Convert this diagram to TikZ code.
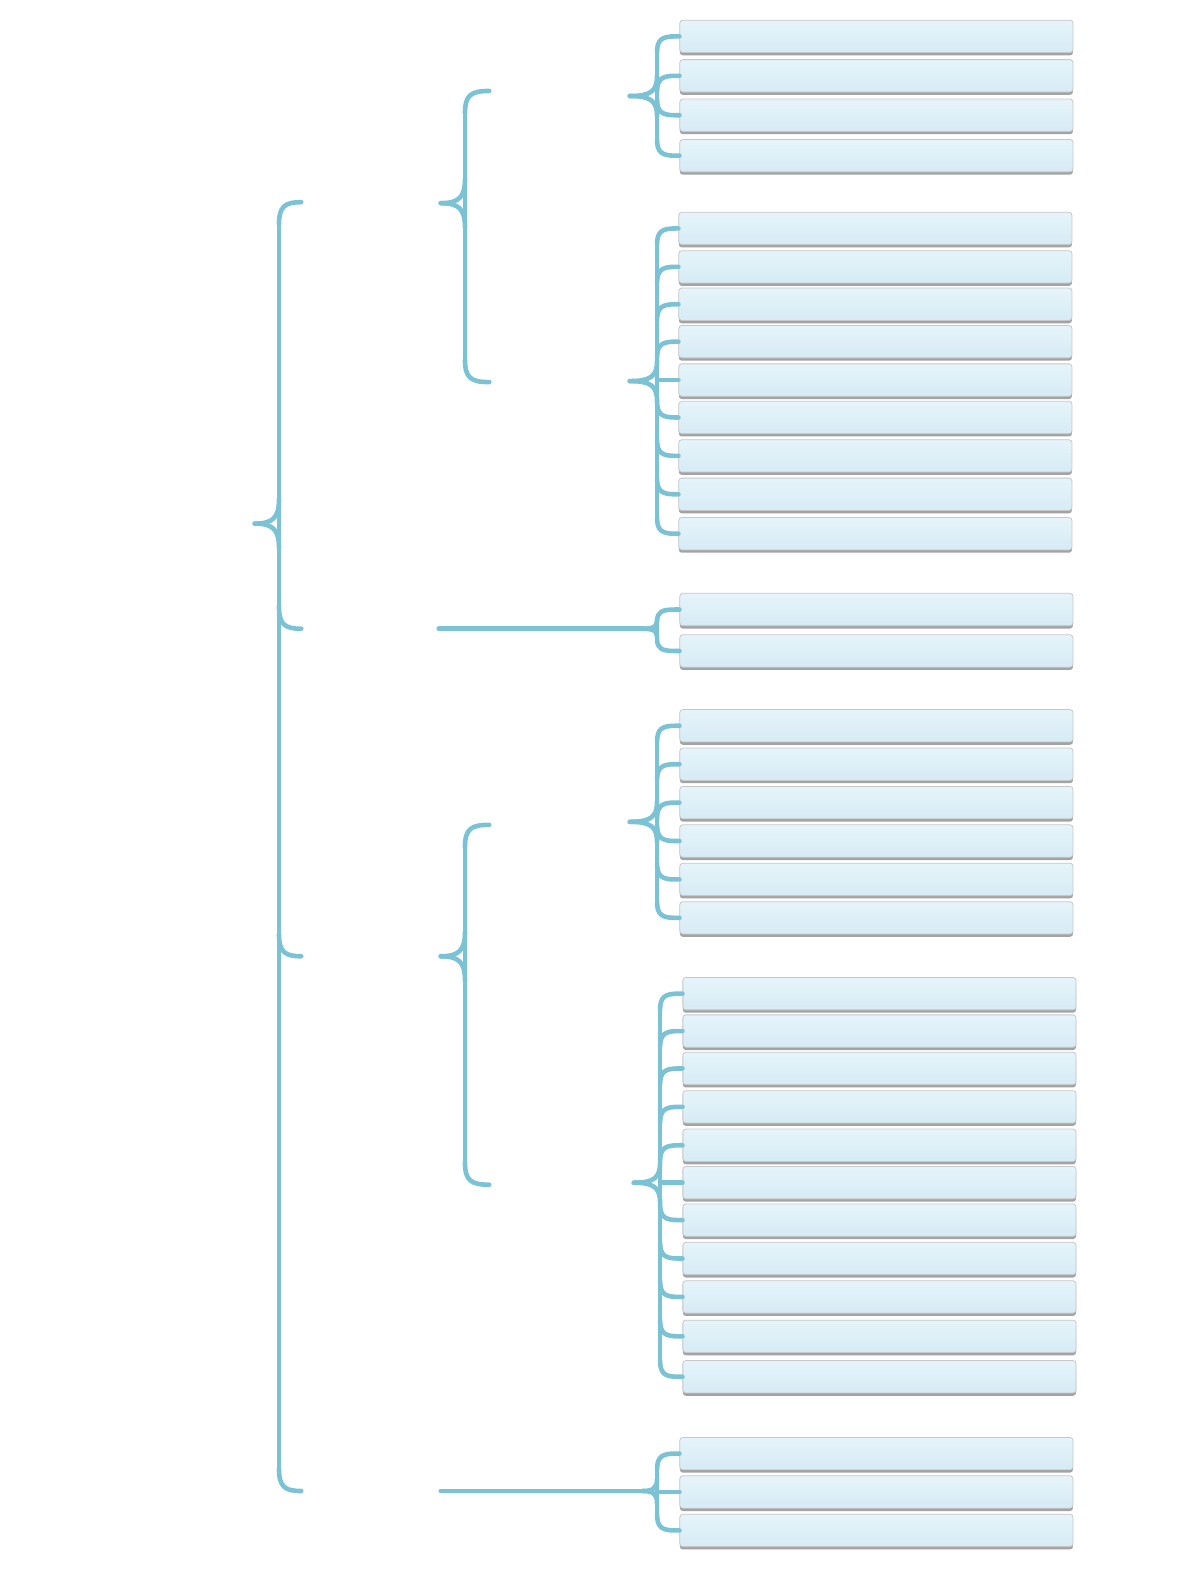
\documentclass[tikz,border=0pt]{standalone}
\usepackage{xcolor}
\usepackage{tikz}
\usetikzlibrary{calc,shadows}

\definecolor{bracecol}{HTML}{7BC2D4}
\definecolor{bartop}{HTML}{E6F4FA}
\definecolor{barbot}{HTML}{D6EBF5}

\begin{document}
\begin{tikzpicture}[x=0.5055pt,y=0.5055pt]
            \tikzstyle{every node}+=[inner sep=0pt]
            \tikzstyle{bar}=[rounded corners=1.5pt, minimum width=196.6pt, minimum height=16.2pt,
                top color=bartop, bottom color=barbot, draw=black!22, line width=0.4pt,
                drop shadow={shadow xshift=0pt, shadow yshift=-1.4pt, fill=black!45, opacity=0.8}]
            \tikzstyle{brace}=[bracecol, line width=2.3pt, line cap=round]
            \fill [white] (0,0) rectangle (1187,-1568);
            \useasboundingbox (0,0) rectangle (1187,-1568);
            % bars
            \foreach \y [count=\i] in {36,75,114,154}
                \node [bar] (a\i) at (867,-\y) {};
            \foreach \y [count=\i] in {226,264,301,338,376,413,451,489,528}
                \node [bar] (b\i) at (866,-\y) {};
            \foreach \y [count=\i] in {603,644}
                \node [bar] (c\i) at (867,-\y) {};
            \foreach \y [count=\i] in {718,756,794,832,870,908}
                \node [bar] (d\i) at (867,-\y) {};
            \foreach \y [count=\i] in {983,1020,1057,1095,1133,1170,1207,1245,1283,1322,1362}
                \node [bar] (e\i) at (870,-\y) {};
            \foreach \y [count=\i] in {1438,1476,1514}
                \node [bar] (f\i) at (867,-\y) {};
            % main brace
            \coordinate (spm) at (276,-518);
            \coordinate (tpm) at (252,-518);
            \coordinate (m1) at (298,-200);
            \coordinate (m2) at (298,-622);
            \coordinate (m3) at (298,-946);
            \coordinate (m4) at (298,-1475);
            \draw [brace] ($(spm |- m1)+(0,-22)$) -- ($(spm |- m4)+(0,22)$);
            \draw [brace] ($(spm |- m1)+(0,-22)$) .. controls ($(spm |- m1)+(0,-4)$) and ($(spm |- m1)+(6,0)$) .. (m1);
            \draw [brace] ($(spm |- m2)+(0,22)$) .. controls ($(spm |- m2)+(0,4)$) and ($(spm |- m2)+(6,0)$) .. (m2);
            \draw [brace] ($(spm |- m3)+(0,22)$) .. controls ($(spm |- m3)+(0,4)$) and ($(spm |- m3)+(6,0)$) .. (m3);
            \draw [brace] ($(spm |- m4)+(0,22)$) .. controls ($(spm |- m4)+(0,4)$) and ($(spm |- m4)+(6,0)$) .. (m4);
            \draw [brace] ($(spm)+(0,24)$) .. controls ($(spm)+(0,6)$) and ($(spm)+(-6,0)$) .. (tpm);
            \draw [brace] ($(spm)+(0,-24)$) .. controls ($(spm)+(0,-6)$) and ($(spm)+(-6,0)$) .. (tpm);
            % upper and lower braces
            \coordinate (spu) at (460,-201);
            \coordinate (tpu) at (436,-201);
            \coordinate (u1) at (484,-90);
            \coordinate (u2) at (484,-378);
            \draw [brace] ($(spu |- u1)+(0,-22)$) -- ($(spu |- u2)+(0,22)$);
            \draw [brace] ($(spu |- u1)+(0,-22)$) .. controls ($(spu |- u1)+(0,-4)$) and ($(spu |- u1)+(6,0)$) .. (u1);
            \draw [brace] ($(spu |- u2)+(0,22)$) .. controls ($(spu |- u2)+(0,4)$) and ($(spu |- u2)+(6,0)$) .. (u2);
            \draw [brace] ($(spu)+(0,24)$) .. controls ($(spu)+(0,6)$) and ($(spu)+(-6,0)$) .. (tpu);
            \draw [brace] ($(spu)+(0,-24)$) .. controls ($(spu)+(0,-6)$) and ($(spu)+(-6,0)$) .. (tpu);
            \coordinate (spl) at (460,-946);
            \coordinate (tpl) at (436,-946);
            \coordinate (l1) at (484,-816);
            \coordinate (l2) at (484,-1172);
            \draw [brace] ($(spl |- l1)+(0,-22)$) -- ($(spl |- l2)+(0,22)$);
            \draw [brace] ($(spl |- l1)+(0,-22)$) .. controls ($(spl |- l1)+(0,-4)$) and ($(spl |- l1)+(6,0)$) .. (l1);
            \draw [brace] ($(spl |- l2)+(0,22)$) .. controls ($(spl |- l2)+(0,4)$) and ($(spl |- l2)+(6,0)$) .. (l2);
            \draw [brace] ($(spl)+(0,24)$) .. controls ($(spl)+(0,6)$) and ($(spl)+(-6,0)$) .. (tpl);
            \draw [brace] ($(spl)+(0,-24)$) .. controls ($(spl)+(0,-6)$) and ($(spl)+(-6,0)$) .. (tpl);
            % group a
            \coordinate (sp1) at (650,-95);
            \coordinate (tp1) at (623,-95);
            \draw [brace] ($(sp1 |- a1.west)+(0,-16)$) -- ($(sp1 |- a4.west)+(0,16)$);
            \draw [brace] ($(sp1)+(0,20)$) .. controls ($(sp1)+(0,5)$) and ($(sp1)+(-6,0)$) .. (tp1);
            \draw [brace] ($(sp1)+(0,-20)$) .. controls ($(sp1)+(0,-5)$) and ($(sp1)+(-6,0)$) .. (tp1);
            \foreach \b in {a1,a2}
                \draw [brace] ($(sp1 |- \b.west)+(0,-16)$) .. controls ($(sp1 |- \b.west)+(0,-3)$) and ($(sp1 |- \b.west)+(5,0)$) .. ($(sp1 |- \b.west)+(18,0)$) -- (\b.west);
            \foreach \b in {a3,a4}
                \draw [brace] ($(sp1 |- \b.west)+(0,16)$) .. controls ($(sp1 |- \b.west)+(0,3)$) and ($(sp1 |- \b.west)+(5,0)$) .. ($(sp1 |- \b.west)+(18,0)$) -- (\b.west);
            % group b
            \coordinate (sp2) at (650,-377);
            \coordinate (tp2) at (623,-377);
            \draw [brace] ($(sp2 |- b1.west)+(0,-16)$) -- ($(sp2 |- b9.west)+(0,16)$);
            \draw [brace] ($(sp2)+(0,20)$) .. controls ($(sp2)+(0,5)$) and ($(sp2)+(-6,0)$) .. (tp2);
            \draw [brace] ($(sp2)+(0,-20)$) .. controls ($(sp2)+(0,-5)$) and ($(sp2)+(-6,0)$) .. (tp2);
            \draw [brace] (sp2 |- b5.west) -- (b5.west);
            \foreach \b in {b1,b2,b3,b4}
                \draw [brace] ($(sp2 |- \b.west)+(0,-16)$) .. controls ($(sp2 |- \b.west)+(0,-3)$) and ($(sp2 |- \b.west)+(5,0)$) .. ($(sp2 |- \b.west)+(18,0)$) -- (\b.west);
            \foreach \b in {b6,b7,b8,b9}
                \draw [brace] ($(sp2 |- \b.west)+(0,16)$) .. controls ($(sp2 |- \b.west)+(0,3)$) and ($(sp2 |- \b.west)+(5,0)$) .. ($(sp2 |- \b.west)+(18,0)$) -- (\b.west);
            % group c
            \coordinate (h3) at (434,-622);
            \coordinate (sp3) at (650,-622);
            \coordinate (tp3) at (636,-622);
            \draw [brace] (h3) -- (tp3);
            \draw [brace] ($(sp3 |- c1.west)+(0,-12)$) -- ($(sp3 |- c2.west)+(0,12)$);
            \draw [brace] ($(sp3)+(0,8)$) .. controls ($(sp3)+(0,2)$) and ($(sp3)+(-4,0)$) .. (tp3);
            \draw [brace] ($(sp3)+(0,-8)$) .. controls ($(sp3)+(0,-2)$) and ($(sp3)+(-4,0)$) .. (tp3);
            \draw [brace] ($(sp3 |- c1.west)+(0,-12)$) .. controls ($(sp3 |- c1.west)+(0,-2)$) and ($(sp3 |- c1.west)+(5,0)$) .. ($(sp3 |- c1.west)+(18,0)$) -- (c1.west);
            \draw [brace] ($(sp3 |- c2.west)+(0,12)$) .. controls ($(sp3 |- c2.west)+(0,2)$) and ($(sp3 |- c2.west)+(5,0)$) .. ($(sp3 |- c2.west)+(18,0)$) -- (c2.west);
            % group d
            \coordinate (sp4) at (650,-813);
            \coordinate (tp4) at (623,-813);
            \draw [brace] ($(sp4 |- d1.west)+(0,-16)$) -- ($(sp4 |- d6.west)+(0,16)$);
            \draw [brace] ($(sp4)+(0,20)$) .. controls ($(sp4)+(0,5)$) and ($(sp4)+(-6,0)$) .. (tp4);
            \draw [brace] ($(sp4)+(0,-20)$) .. controls ($(sp4)+(0,-5)$) and ($(sp4)+(-6,0)$) .. (tp4);
            \foreach \b in {d1,d2,d3}
                \draw [brace] ($(sp4 |- \b.west)+(0,-16)$) .. controls ($(sp4 |- \b.west)+(0,-3)$) and ($(sp4 |- \b.west)+(5,0)$) .. ($(sp4 |- \b.west)+(18,0)$) -- (\b.west);
            \foreach \b in {d4,d5,d6}
                \draw [brace] ($(sp4 |- \b.west)+(0,16)$) .. controls ($(sp4 |- \b.west)+(0,3)$) and ($(sp4 |- \b.west)+(5,0)$) .. ($(sp4 |- \b.west)+(18,0)$) -- (\b.west);
            % group e
            \coordinate (sp5) at (653,-1170);
            \coordinate (tp5) at (627,-1170);
            \draw [brace] ($(sp5 |- e1.west)+(0,-16)$) -- ($(sp5 |- e11.west)+(0,16)$);
            \draw [brace] ($(sp5)+(0,20)$) .. controls ($(sp5)+(0,5)$) and ($(sp5)+(-6,0)$) .. (tp5);
            \draw [brace] ($(sp5)+(0,-20)$) .. controls ($(sp5)+(0,-5)$) and ($(sp5)+(-6,0)$) .. (tp5);
            \draw [brace] (sp5 |- e6.west) -- (e6.west);
            \foreach \b in {e1,e2,e3,e4,e5}
                \draw [brace] ($(sp5 |- \b.west)+(0,-16)$) .. controls ($(sp5 |- \b.west)+(0,-3)$) and ($(sp5 |- \b.west)+(5,0)$) .. ($(sp5 |- \b.west)+(18,0)$) -- (\b.west);
            \foreach \b in {e7,e8,e9,e10,e11}
                \draw [brace] ($(sp5 |- \b.west)+(0,16)$) .. controls ($(sp5 |- \b.west)+(0,3)$) and ($(sp5 |- \b.west)+(5,0)$) .. ($(sp5 |- \b.west)+(18,0)$) -- (\b.west);
            % group f
            \coordinate (h6) at (436,-1475);
            \coordinate (sp6) at (650,-1475);
            \coordinate (tp6) at (636,-1475);
            \draw [brace] (h6) -- (tp6);
            \draw [brace] ($(sp6 |- f1.west)+(0,-16)$) -- ($(sp6 |- f3.west)+(0,16)$);
            \draw [brace] ($(sp6)+(0,12)$) .. controls ($(sp6)+(0,3)$) and ($(sp6)+(-4,0)$) .. (tp6);
            \draw [brace] ($(sp6)+(0,-12)$) .. controls ($(sp6)+(0,-3)$) and ($(sp6)+(-4,0)$) .. (tp6);
            \draw [brace] (sp6 |- f2.west) -- (f2.west);
            \draw [brace] ($(sp6 |- f1.west)+(0,-16)$) .. controls ($(sp6 |- f1.west)+(0,-3)$) and ($(sp6 |- f1.west)+(5,0)$) .. ($(sp6 |- f1.west)+(18,0)$) -- (f1.west);
            \draw [brace] ($(sp6 |- f3.west)+(0,16)$) .. controls ($(sp6 |- f3.west)+(0,3)$) and ($(sp6 |- f3.west)+(5,0)$) .. ($(sp6 |- f3.west)+(18,0)$) -- (f3.west);
\end{tikzpicture}
\end{document}
